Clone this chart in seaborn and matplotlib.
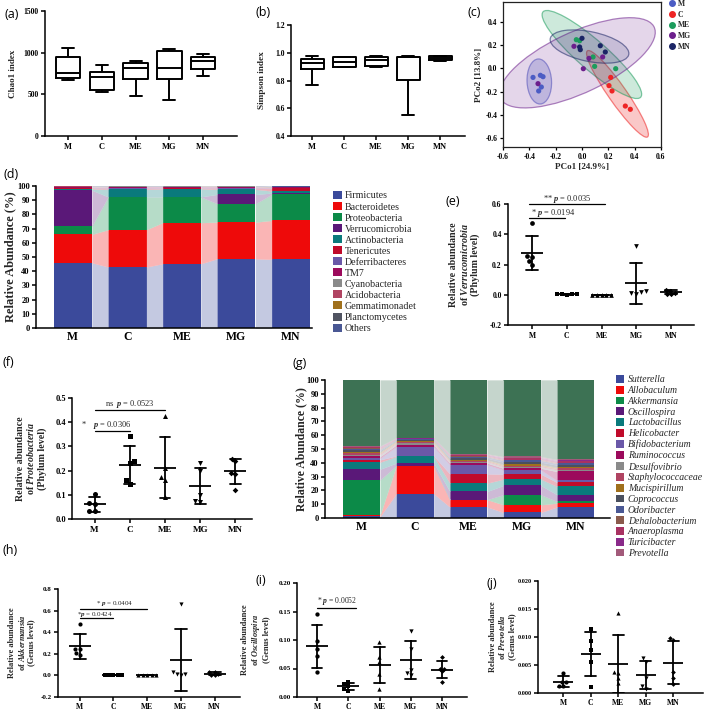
import numpy as np
import pandas as pd
import matplotlib
matplotlib.use("Agg")
import matplotlib.pyplot as plt
import seaborn as sns
from matplotlib.patches import Ellipse, Patch
from matplotlib.lines import Line2D
from matplotlib.colors import to_rgba, to_rgb

# ---------------------------------------------------------------- data
groups = ["M", "C", "ME", "MG", "MN"]

# (a) Chao1 index (five samples per group)
chao1 = {"M": [670, 698, 758, 950, 1059],
         "C": [530, 549, 710, 770, 850],
         "ME": [481, 690, 818, 882, 902],
         "MG": [437, 686, 818, 1019, 1043],
         "MN": [726, 802, 898, 950, 979]}

# (b) Simpson index
simpson = {"M": [0.770, 0.880, 0.928, 0.957, 0.976],
           "C": [0.899, 0.900, 0.933, 0.966, 0.971],
           "ME": [0.899, 0.906, 0.947, 0.971, 0.976],
           "MG": [0.549, 0.802, 0.966, 0.971, 0.976],
           "MN": [0.942, 0.947, 0.964, 0.976, 0.980]}

# (c) PCoA coordinates
pcoa_x = {"M": [-0.372, -0.316, -0.296, -0.309, -0.329],
          "C": [0.218, 0.205, 0.228, 0.329, 0.367],
          "ME": [-0.043, -0.018, 0.084, 0.096, 0.256],
          "MG": [-0.334, -0.061, 0.053, 0.010, 0.157],
          "MN": [0.000, -0.018, -0.013, 0.139, 0.177]}
pcoa_y = {"M": [-0.078, -0.060, -0.072, -0.161, -0.195],
          "C": [-0.078, -0.149, -0.195, -0.325, -0.353],
          "ME": [0.247, 0.238, 0.098, 0.017, -0.003],
          "MG": [-0.132, 0.190, 0.086, -0.003, 0.098],
          "MN": [0.259, 0.184, 0.161, 0.195, 0.141]}
pcoa_colors = ["#4b5cc4", "#ee2424", "#1c9c5c", "#6c1f8c", "#1b2566"]
ellipse_alpha = [0.25, 0.25, 0.22, 0.18, 0.14]

# (d) phylum-level relative abundance (%), values per group M, C, ME, MG, MN
phyla = ["Firmicutes", "Bacteroidetes", "Proteobacteria", "Verrucomicrobia",
         "Actinobacteria", "Tenericutes", "Deferribacteres", "TM7",
         "Cyanobacteria", "Acidobacteria", "Gemmatimonadet", "Planctomycetes", "Others"]
phylum_abund = {
    "Firmicutes": [46.0, 43.0, 45.3, 48.8, 48.4],
    "Bacteroidetes": [20.0, 26.3, 28.9, 25.8, 27.4],
    "Proteobacteria": [6.0, 23.0, 18.1, 13.0, 18.3],
    "Verrucomicrobia": [25.0, 0.1, 0.1, 6.5, 0.9],
    "Actinobacteria": [1.0, 5.3, 5.6, 3.6, 1.5],
    "Tenericutes": [0.5, 0.5, 0.6, 0.5, 2.1],
    "Deferribacteres": [0.3, 0.3, 0.3, 0.3, 0.3],
    "TM7": [0.5, 1.0, 0.6, 1.0, 0.3],
    "Cyanobacteria": [0.3, 0.2, 0.2, 0.2, 0.2],
    "Acidobacteria": [0.1, 0.1, 0.1, 0.1, 0.1],
    "Gemmatimonadet": [0.1, 0.1, 0.05, 0.05, 0.05],
    "Planctomycetes": [0.1, 0.05, 0.05, 0.05, 0.05],
    "Others": [0.1, 0.05, 0.1, 0.1, 0.4]}
phylum_colors = ["#3b4a9b", "#ee0a0a", "#0c8a48", "#5a1878", "#0a7a7c", "#c00a2a",
                 "#6a58a8", "#9c0a5c", "#8a8a8a", "#b04462", "#a0701c", "#505462", "#4a5894"]

# (e) Verrucomicrobia (phylum level)
verruco = {"M": [0.476, 0.254, 0.247, 0.220, 0.194],
           "C": [0.006, 0.004, 0.003, 0.002, 0.001],
           "ME": [0.001, 0.0005, 0.0003, 0.0002, 0.0],
           "MG": [0.320, 0.022, 0.011, 0.007, 0.020],
           "MN": [0.033, 0.025, 0.012, 0.004, 0.002]}

# (f) Proteobacteria (phylum level)
proteo = {"M": [0.104, 0.068, 0.064, 0.034, 0.032],
          "C": [0.342, 0.240, 0.230, 0.162, 0.146],
          "ME": [0.425, 0.210, 0.175, 0.160, 0.090],
          "MG": [0.232, 0.198, 0.100, 0.075, 0.070],
          "MN": [0.250, 0.240, 0.190, 0.185, 0.120]}

# (g) genus-level relative abundance (%)
genera = ["Sutterella", "Allobaculum", "Akkermansia", "Oscillospira", "Lactobacillus",
          "Helicobacter", "Bifidobacterium", "Ruminococcus", "Desulfovibrio",
          "Staphylococcaceae", "Mucispirillum", "Coprococcus", "Odoribacter",
          "Dehalobacterium", "Anaeroplasma", "Turicibacter", "Prevotella", "Others"]
genus_abund = {
    "Sutterella": [1.2, 17.6, 8.0, 4.1, 8.0],
    "Allobaculum": [1.2, 20.2, 5.3, 5.5, 2.8],
    "Akkermansia": [25.3, 0.2, 0.1, 7.3, 1.2],
    "Oscillospira": [7.7, 1.8, 5.9, 6.7, 4.9],
    "Lactobacillus": [5.1, 4.8, 6.0, 4.6, 6.0],
    "Helicobacter": [1.7, 0.4, 6.7, 3.6, 2.9],
    "Bifidobacterium": [1.2, 6.8, 6.6, 3.1, 1.4],
    "Ruminococcus": [1.2, 1.2, 1.2, 1.2, 6.5],
    "Desulfovibrio": [1.4, 1.0, 0.9, 1.0, 1.2],
    "Staphylococcaceae": [1.0, 0.8, 0.8, 0.8, 1.0],
    "Mucispirillum": [0.8, 1.0, 0.6, 1.0, 0.8],
    "Coprococcus": [1.2, 0.6, 1.2, 1.6, 1.6],
    "Odoribacter": [0.8, 0.6, 1.0, 1.2, 1.2],
    "Dehalobacterium": [0.6, 0.3, 0.5, 0.6, 0.6],
    "Anaeroplasma": [0.8, 0.3, 0.8, 0.9, 1.0],
    "Turicibacter": [0.6, 0.2, 0.4, 0.6, 0.6],
    "Prevotella": [0.5, 0.4, 0.5, 0.8, 0.8],
    "Others": [47.7, 41.8, 53.5, 55.4, 57.5]}
genus_colors = ["#3b4a9b", "#ee0a0a", "#0c8a48", "#5a1878", "#0a7a7c", "#c00a2a",
                "#6a58a8", "#9c0a5c", "#8a8a8a", "#b04462", "#a0701c", "#4a505e",
                "#4a5894", "#8a5a4c", "#a83262", "#8a2a8a", "#a25a7a", "#3d7254"]

# (h) Akkermansia (genus level)
akk = {"M": [0.475, 0.245, 0.240, 0.205, 0.190],
       "C": [0.006, 0.004, 0.003, 0.002, 0.001],
       "ME": [0.001, 0.0005, 0.0003, 0.0002, 0.0],
       "MG": [0.660, 0.030, 0.012, 0.005, 0.010],
       "MN": [0.035, 0.028, 0.012, 0.005, 0.004]}

# (i) Oscillospira (genus level)
osc = {"M": [0.145, 0.099, 0.085, 0.072, 0.044],
       "C": [0.027, 0.022, 0.019, 0.014, 0.011],
       "ME": [0.096, 0.070, 0.062, 0.040, 0.014],
       "MG": [0.115, 0.085, 0.048, 0.042, 0.038],
       "MN": [0.070, 0.050, 0.050, 0.045, 0.026]}

# (j) Prevotella (genus level)
prev = {"M": [0.0036, 0.0020, 0.0019, 0.0013, 0.0012],
        "C": [0.0114, 0.0093, 0.0077, 0.0056, 0.0010],
        "ME": [0.0143, 0.0037, 0.0035, 0.0027, 0.0018],
        "MG": [0.0062, 0.0056, 0.0026, 0.0012, 0.0008],
        "MN": [0.0098, 0.0094, 0.0037, 0.0026, 0.0016]}

dot_markers = ["o", "s", "^", "v", "D"]

# ---------------------------------------------------------------- style
sns.set_theme(style="ticks")
plt.rcParams.update({
    "font.family": ["Liberation Serif", "DejaVu Serif"],
    "font.weight": "bold",
    "axes.labelweight": "bold",
    "axes.edgecolor": "black",
    "axes.linewidth": 1.1,
    "xtick.color": "black",
    "ytick.color": "black",
    "mathtext.fontset": "custom",
    "mathtext.rm": "Liberation Serif:bold",
    "mathtext.it": "Liberation Serif:italic:bold",
    "mathtext.bf": "Liberation Serif:bold",
    "mathtext.sf": "Liberation Serif:italic",
})

W, H = 709, 710
fig = plt.figure(figsize=(W / 100, H / 100), dpi=100)
fig.patch.set_facecolor("white")


def axes_px(l, t, r, b):
    return fig.add_axes([l / W, 1 - b / H, (r - l) / W, (b - t) / H])


def long(table):
    return pd.DataFrame([(g, v) for g in groups for v in table[g]],
                        columns=["group", "value"])


def finish(ax, xlim, ylim, yticks, ylabels, tick_fs, xtick_fs, ylabel,
           label_fs, label_x, linespacing=1.1, xtick_len=3, lw=1.1, xpad=2):
    sns.despine(ax=ax)
    ax.set_xlim(*xlim)
    ax.set_ylim(*ylim)
    ax.set_yticks(yticks, ylabels)
    ax.set_xticks(range(len(groups)), groups)
    ax.tick_params(axis="y", labelsize=tick_fs, width=lw, length=3, pad=1.5)
    ax.tick_params(axis="x", labelsize=xtick_fs, width=lw, length=xtick_len, pad=xpad)
    for s in ("left", "bottom"):
        ax.spines[s].set_linewidth(lw)
    for lab in ax.get_xticklabels() + ax.get_yticklabels():
        lab.set_fontweight("bold")
    ax.set_xlabel("")
    ax.set_ylabel(ylabel, fontsize=label_fs, fontweight="bold", linespacing=linespacing)
    ax.yaxis.set_label_coords(label_x, 0.5)
    ax.set_facecolor("white")


def panel_label(x, y, s):
    fig.text(x / W, 1 - y / H, s, ha="center", va="center", fontsize=9,
             family="Open Sans", fontweight="normal", color="black")


# ---------------------------------------------------------------- (a) and (b)
def box_panel(ax, table, width):
    sns.boxplot(data=long(table), x="group", y="value", order=groups, ax=ax,
                whis=(0, 100), fill=False, color="black", saturation=1,
                linewidth=1.4, width=width)


ax_a = axes_px(45, 11, 237, 136)
box_panel(ax_a, chao1, 0.72)
finish(ax_a, (-0.68, 5.0), (0, 1500), [0, 500, 1000, 1500], ["0", "500", "1000", "1500"],
       5.5, 6, "Chao1 index", 6.5, -0.145)

ax_b = axes_px(291, 25, 465, 136)
box_panel(ax_b, simpson, 0.72)
yt = [0.4, 0.6, 0.8, 1.0, 1.2]
finish(ax_b, (-0.66, 4.78), (0.4, 1.2), yt, [f"{v:.1f}" for v in yt],
       5.5, 6, "Simpson index", 6.7, -0.145)

# ---------------------------------------------------------------- (c)
ax_c = axes_px(503, 2, 661, 147)
pc = pd.DataFrame([(g, x, y) for g in groups for x, y in zip(pcoa_x[g], pcoa_y[g])],
                  columns=["group", "x", "y"])
k_scale = 3.2
for g, col, al in zip(groups, pcoa_colors, ellipse_alpha):
    xs, ys = np.array(pcoa_x[g]), np.array(pcoa_y[g])
    vals, vecs = np.linalg.eigh(np.cov(xs, ys))
    order = vals.argsort()[::-1]
    vals, vecs = vals[order], vecs[:, order]
    ang = np.degrees(np.arctan2(vecs[1, 0], vecs[0, 0]))
    ax_c.add_patch(Ellipse((xs.mean(), ys.mean()), 2 * k_scale * np.sqrt(vals[0]),
                           2 * k_scale * np.sqrt(vals[1]), angle=ang,
                           facecolor=to_rgba(col, al), edgecolor=to_rgba(col, 0.55),
                           linewidth=0.9, zorder=1))
sns.scatterplot(data=pc, x="x", y="y", hue="group", hue_order=groups,
                palette=pcoa_colors, s=14, edgecolor="none", legend=False,
                ax=ax_c, zorder=3)
ax_c.set_xlim(-0.6, 0.6)
ax_c.set_ylim(-0.678, 0.572)
xt = [-0.6, -0.4, -0.2, 0.0, 0.2, 0.4, 0.6]
ax_c.set_xticks(xt, [f"{v:.1f}" for v in xt])
yt = [-0.6, -0.4, -0.2, 0.0, 0.2, 0.4]
ax_c.set_yticks(yt, [f"{v:.1f}" for v in yt])
ax_c.tick_params(labelsize=5.5, width=0.9, length=2.5, pad=1.5)
for s in ax_c.spines.values():
    s.set_linewidth(0.9)
    s.set_color("#222222")
for lab in ax_c.get_xticklabels() + ax_c.get_yticklabels():
    lab.set_fontweight("bold")
ax_c.set_xlabel("PCo1 [24.9%]", fontsize=6.5, fontweight="bold", labelpad=2)
ax_c.set_ylabel("PCo2 [13.8%]", fontsize=6.5, fontweight="bold", labelpad=2)
fig.legend([Line2D([], [], marker="o", linestyle="none", color=c, markersize=4)
            for c in pcoa_colors], groups, loc="upper left",
           bbox_to_anchor=(669 / W, 1 - 0 / H), frameon=False,
           prop={"family": "Liberation Serif", "weight": "bold", "size": 5.5},
           handlelength=0.8, handletextpad=0.3, labelspacing=0.35,
           borderpad=0, borderaxespad=0)


# ---------------------------------------------------------------- stacked bars
def stacked_panel(ax, table, names, colors, width):
    vals = np.array([table[n] for n in names])
    tops = np.cumsum(vals, axis=0)
    bottoms = tops - vals
    for k in range(len(names) - 1, -1, -1):
        sns.barplot(x=groups, y=tops[k], order=groups, color=colors[k], saturation=1,
                    width=width, errorbar=None, edgecolor="none", linewidth=0, ax=ax)
    for k in range(len(names)):
        light = 0.3 * np.array(to_rgb(colors[k])) + 0.7
        for i in range(len(groups) - 1):
            ax.fill_between([i + width / 2, i + 1 - width / 2],
                            [bottoms[k, i], bottoms[k, i + 1]],
                            [tops[k, i], tops[k, i + 1]],
                            color=light, linewidth=0.2, edgecolor=light, zorder=1)


ax_d = axes_px(36, 186, 312, 328)
stacked_panel(ax_d, phylum_abund, phyla, phylum_colors, 0.706)
yt = list(range(0, 101, 10))
finish(ax_d, (-0.675, 4.39), (0, 100), yt, [str(v) for v in yt], 6, 8.5,
       "Relative Abundance (%)", 9, -0.072, xtick_len=0)
fig.legend([Patch(facecolor=c, edgecolor="none") for c in phylum_colors], phyla,
           loc="upper left", bbox_to_anchor=(333 / W, 1 - 191 / H), frameon=False,
           prop={"family": "Liberation Serif", "weight": "normal", "size": 7.2},
           handlelength=0.85, handleheight=0.85, handletextpad=0.35,
           labelspacing=0.16, borderpad=0, borderaxespad=0)

ax_g = axes_px(325, 380, 610, 518)
stacked_panel(ax_g, genus_abund, genera, genus_colors, 0.70)
finish(ax_g, (-0.68, 4.64), (0, 100), yt, [str(v) for v in yt], 6, 8.5,
       "Relative Abundance (%)", 8.5, -0.063, xtick_len=0)
fig.legend([Patch(facecolor=c, edgecolor="none") for c in genus_colors[:-1]], genera[:-1],
           loc="upper left", bbox_to_anchor=(616 / W, 1 - 375 / H), frameon=False,
           prop={"family": "Liberation Serif", "style": "italic", "weight": "normal",
                 "size": 7},
           handlelength=0.85, handleheight=0.85, handletextpad=0.35,
           labelspacing=0.16, borderpad=0, borderaxespad=0)


# ---------------------------------------------------------------- dot plots
def dot_panel(ax, table, pitch_px, dot_size, mean_frac=0.66, cap=0.35, lw=1.3):
    df = long(table)
    for g, m in zip(groups, dot_markers):
        sub = df[df["group"] == g]
        sns.swarmplot(data=sub, x="group", y="value", order=groups, marker=m,
                      color="black", size=dot_size * (0.8 if m == "D" else 1.0),
                      ax=ax, zorder=3)
    sns.pointplot(data=df, x="group", y="value", order=groups, errorbar="sd",
                  capsize=cap, linestyle="none", marker="_",
                  markersize=mean_frac * pitch_px * 0.72, markeredgewidth=lw,
                  color="black", err_kws={"linewidth": lw}, ax=ax)


def sig(ax, x0, x1, y, text_x, text_y, text, fs, star=None):
    ax.plot([x0, x1], [y, y], color="black", linewidth=0.9, clip_on=False, zorder=4)
    ax.text(text_x, text_y, text, ha="center", va="center", fontsize=fs,
            fontweight="normal", clip_on=False)
    if star is not None:
        ax.text(star[0], star[1], star[2], ha="center", va="center", fontsize=fs,
                fontweight="normal", clip_on=False)


# (e)
ax_e = axes_px(508, 204, 694, 325)
dot_panel(ax_e, verruco, 34.75, 3.4)
yt = [-0.2, 0.0, 0.2, 0.4, 0.6]
finish(ax_e, (-0.69, 4.66), (-0.2, 0.6), yt, [f"{v:.1f}" for v in yt], 5.5, 5.5,
       "Relative abundance\nof $\\mathit{Verrucomicrobia}$\n(Phylum level)", 7.2, -0.15)
sig(ax_e, -0.1, 2.1, 0.6, 1.02, 0.633, "** $\\mathsf{p}$ = 0.0035", 6)
sig(ax_e, -0.1, 0.95, 0.505, 0.62, 0.54, "* $\\mathsf{p}$ = 0.0194", 6)

# (f)
ax_f = axes_px(72, 398, 252, 519)
dot_panel(ax_f, proteo, 35.3, 3.6, mean_frac=0.6, cap=0.3)
yt = [0.0, 0.1, 0.2, 0.3, 0.4, 0.5]
finish(ax_f, (-0.64, 4.47), (0, 0.5), yt, [f"{v:.1f}" for v in yt], 6, 6.5,
       "Relative abundance\nof $\\mathit{Proteobacteria}$\n(Phylum level)", 7.2, -0.14)
sig(ax_f, 0, 2, 0.452, 1.0, 0.477, "ns  $\\mathsf{p}$ = 0.0523", 6)
sig(ax_f, 0, 1, 0.362, 0.5, 0.39, "$\\mathsf{p}$ = 0.0306", 6, star=(-0.3, 0.39, "*"))

# (h)
ax_h = axes_px(58, 589, 240, 697)
dot_panel(ax_h, akk, 32.8, 3.0, mean_frac=0.7)
yt = [-0.2, 0.0, 0.2, 0.4, 0.6, 0.8]
finish(ax_h, (-0.64, 4.75), (-0.2, 0.8), yt, [f"{v:.1f}" for v in yt], 5, 5.5,
       "Relative abundance\nof $\\mathit{Akkermansia}$\n(Genus level)", 6, -0.126,
       linespacing=1.05, xpad=1)
sig(ax_h, 0, 2, 0.615, 1.04, 0.668, "* $\\mathsf{p}$ = 0.0404", 5)
sig(ax_h, 0, 1, 0.534, 0.46, 0.566, "*$\\mathsf{p}$ = 0.0424", 5)

# (i)
ax_i = axes_px(297, 583, 467, 697)
dot_panel(ax_i, osc, 31.2, 3.1, mean_frac=0.7)
yt = [0.0, 0.05, 0.10, 0.15, 0.20]
finish(ax_i, (-0.64, 4.8), (0, 0.2), yt, [f"{v:.2f}" for v in yt], 5, 5.5,
       "Relative abundance\nof $\\mathit{Oscillospira}$\n(Genus level)", 6, -0.16,
       linespacing=1.05, xpad=1)
sig(ax_i, 0, 1.25, 0.156, 0.65, 0.169, "* $\\mathsf{p}$ = 0.0052", 5.5)

# (j)
ax_j = axes_px(538, 581, 703, 693)
dot_panel(ax_j, prev, 27.6, 3.0, mean_frac=0.76, cap=0.4)
yt = [0.0, 0.005, 0.010, 0.015, 0.020]
finish(ax_j, (-0.91, 5.09), (0, 0.02), yt, [f"{v:.3f}" for v in yt], 4.5, 5.5,
       "Relative abundance\nof $\\mathit{Prevotella}$\n(Genus level)", 6, -0.135,
       linespacing=1.05, xpad=1)

# ---------------------------------------------------------------- panel labels
for (x, y, s) in [(12, 14, "(a)"), (263, 12, "(b)"), (474, 12, "(c)"),
                  (11, 174, "(d)"), (453, 201, "(e)"), (8, 362, "(f)"),
                  (300, 363, "(g)"), (10, 550, "(h)"), (261, 581, "(i)"),
                  (492, 583, "(j)")]:
    panel_label(x, y, s)

fig.savefig("out.png", dpi=100, facecolor="white")
